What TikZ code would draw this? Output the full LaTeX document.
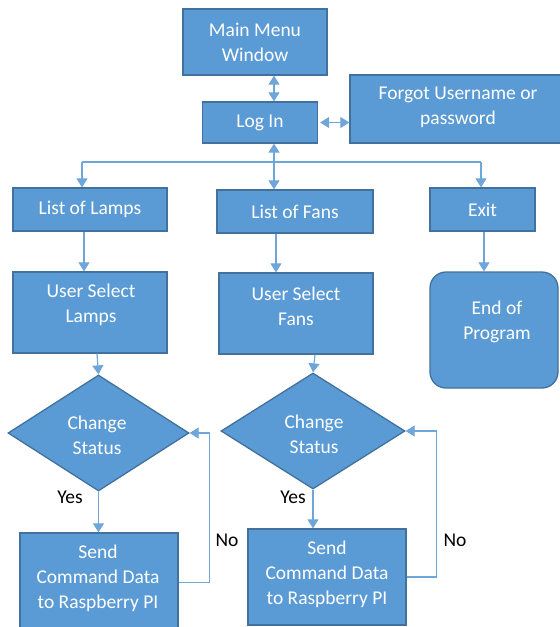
\documentclass[tikz,border=0pt]{standalone}
\usepackage{fontspec}
\setmainfont{Carlito}
\usetikzlibrary{shapes.geometric,arrows.meta}
\definecolor{boxfill}{HTML}{5B9BD5}
\definecolor{boxline}{HTML}{41719C}
\definecolor{conn}{HTML}{6FA6DA}
\begin{document}
\begin{tikzpicture}[x=1pt,y=-1pt,
  box/.style={rectangle,draw=boxline,fill=boxfill,line width=1.3pt,inner sep=0pt},
  dia/.style={diamond,draw=boxline,fill=boxfill,line width=1.3pt,inner sep=0pt},
  txt/.style={text=white,align=center,font=\fontsize{19.5}{25}\selectfont,inner sep=0pt},
  lbl/.style={text=black,font=\fontsize{19.5}{25}\selectfont,inner sep=0pt},
  conn/.style={draw=conn,line width=1.2pt},
  arr/.style={conn,-{Triangle[width=11pt,length=9pt]}},
  darr/.style={conn,{Triangle[width=11pt,length=9pt]}-{Triangle[width=11pt,length=9pt]}}]
\useasboundingbox (0,0) rectangle (560,627);
% nodes
\node[box,minimum width=144pt,minimum height=66pt] (mm) at (255,42) {};
\node[txt] (mmt) at (mm.center) {Main Menu\\Window};
\node[box,minimum width=115pt,minimum height=41pt] (login) at (260,122.5) {};
\node[txt] (logint) at (login.center) {Log In};
\node[box,minimum width=216pt,minimum height=68pt] (forgot) at (458,109) {};
\node[txt] (forgott) at (458,107) {Forgot Username or\\password};
\node[box,minimum width=154pt,minimum height=43pt] (lamps) at (90,209.5) {};
\node[txt] (lampst) at (lamps.center) {List of Lamps};
\node[box,minimum width=156pt,minimum height=43pt] (fans) at (295,211.5) {};
\node[txt] (fanst) at (fans.center) {List of Fans};
\node[box,minimum width=105pt,minimum height=43pt] (exit) at (482.5,209.5) {};
\node[txt] (exitt) at (exit.center) {Exit};
\node[box,minimum width=154pt,minimum height=81pt] (uslamps) at (90,312.5) {};
\node[txt] (uslampst) at (91,304.5) {User Select\\Lamps};
\node[box,minimum width=154pt,minimum height=81pt] (usfans) at (296,313.5) {};
\node[txt] (usfanst) at (296,306.5) {User Select\\Fans};
\node[box,rounded corners=16pt,minimum width=128pt,minimum height=116pt] (endp) at (494,330) {};
\node[txt] (endpt) at (497,321.5) {End of\\Program};
\node[dia,minimum width=181pt,minimum height=116pt] (d1) at (98.5,433) {};
\node[txt] (d1t) at (97,435.5) {Change\\Status};
\node[dia,minimum width=184pt,minimum height=116pt] (d2) at (313,431) {};
\node[txt] (d2t) at (314,434.5) {Change\\Status};
\node[box,minimum width=158pt,minimum height=99pt] (send1) at (99,582.5) {};
\node[txt] (send1t) at (98,578) {Send\\Command Data\\to Raspberry PI};
\node[box,minimum width=158pt,minimum height=96pt] (send2) at (327,577) {};
\node[txt] (send2t) at (327,574) {Send\\Command Data\\to Raspberry PI};
\node[lbl] (yes1) at (70,497) {Yes};
\node[lbl] (yes2) at (293,497) {Yes};
\node[lbl] (no1) at (227,540) {No};
\node[lbl] (no2) at (455,540) {No};
% coordinates
\coordinate (bc) at (274,162);
\coordinate (bl) at (82,162);
\coordinate (br) at (481,162);
\coordinate (fx) at (276,0);
\coordinate (lx) at (84,0);
\coordinate (ex) at (484,0);
\coordinate (l1x) at (97,0);
\coordinate (l2x) at (315,0);
% connectors
\draw[darr] (mm.south -| bc) -- (login.north -| bc);
\draw[darr] ([xshift=2pt]login.east) -- (forgot.west |- login.east);
\draw[conn] (bl) -- (br);
\draw[arr] (bc) -- (login.south -| bc);
\draw[arr] (bl) -- (lamps.north -| bl);
\draw[arr] (bc) -- (fans.north -| bc);
\draw[arr] (br) -- (exit.north -| br);
\draw[arr] (lamps.south -| lx) -- (uslamps.north -| lx);
\draw[arr] (fans.south -| fx) -- (usfans.north -| fx);
\draw[arr] (exit.south -| ex) -- (endp.north -| ex);
\draw[arr] (uslamps.south -| l1x) -- (d1.north);
\draw[arr] (usfans.south -| l2x) -- (d2.north);
\draw[arr] (d1.south) -- (send1.north -| d1.south);
\draw[arr] (d2.south) -- (send2.north -| d2.south);
\draw[arr] (send1.east) -- ++(31,0) |- (d1.east);
\draw[arr] (send2.east) -- ++(30,0) |- (d2.east);
\end{tikzpicture}
\end{document}
